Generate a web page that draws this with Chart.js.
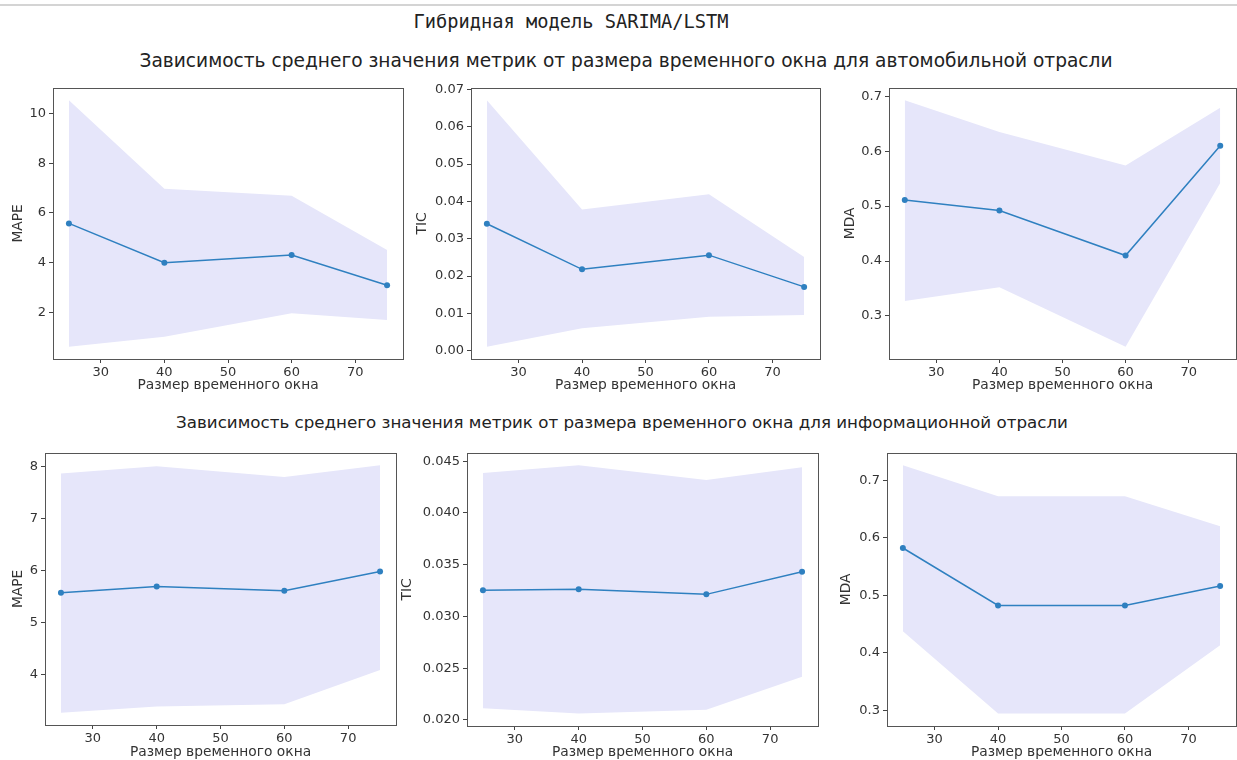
<!DOCTYPE html>
<html>
<head>
<meta charset="utf-8">
<script src="https://cdn.jsdelivr.net/npm/chart.js@4.4.1/dist/chart.umd.min.js"></script>
<style>
  body { margin: 0; background: #fff; width: 1237px; height: 760px; overflow: hidden; position: relative; font-family: "DejaVu Sans", sans-serif; }
  .topline { position: absolute; left: 0; top: 4px; width: 1237px; height: 2px; background: #d4d4d4; }
  .ttl { position: absolute; white-space: nowrap; transform: translate(-50%, -50%); color: #222; }
  canvas { position: absolute; }
</style>
</head>
<body>
<div class="topline"></div>
<div class="ttl" style="left:571px; top:21px; font-family:'DejaVu Sans Mono', monospace; font-size:18.7px;">Гибридная модель SARIMA/LSTM</div>
<div class="ttl" style="left:626px; top:60px; font-size:18.6px;">Зависимость среднего значения метрик от размера временного окна для автомобильной отрасли</div>
<div class="ttl" style="left:622px; top:422px; font-size:16.7px;">Зависимость среднего значения метрик от размера временного окна для информационной отрасли</div>

<canvas id="c1"></canvas>
<canvas id="c2"></canvas>
<canvas id="c3"></canvas>
<canvas id="c4"></canvas>
<canvas id="c5"></canvas>
<canvas id="c6"></canvas>

<script>
// Размер временного окна
const windowSizes = [25, 40, 60, 75];
const xTicks = [30, 40, 50, 60, 70];

// автомобильная отрасль
const autoMapeMean = [5.58, 4.0, 4.31, 3.1];
const autoMapeUpper = [10.53, 6.97, 6.69, 4.51];
const autoMapeLower = [0.63, 1.03, 1.97, 1.7];
const autoMapeTicks = [2, 4, 6, 8, 10];

const autoTicMean = [0.034, 0.0218, 0.0256, 0.0171];
const autoTicUpper = [0.0671, 0.0378, 0.0419, 0.0251];
const autoTicLower = [0.0011, 0.006, 0.0091, 0.0096];
const autoTicTicks = [0, 0.01, 0.02, 0.03, 0.04, 0.05, 0.06, 0.07];

const autoMdaMean = [0.511, 0.492, 0.41, 0.61];
const autoMdaUpper = [0.693, 0.635, 0.574, 0.679];
const autoMdaLower = [0.327, 0.352, 0.244, 0.542];
const autoMdaTicks = [0.3, 0.4, 0.5, 0.6, 0.7];

// информационная отрасль
const infoMapeMean = [5.57, 5.69, 5.61, 5.98];
const infoMapeUpper = [7.87, 8.01, 7.8, 8.03];
const infoMapeLower = [3.26, 3.38, 3.42, 4.08];
const infoMapeTicks = [4, 5, 6, 7, 8];

const infoTicMean = [0.03252, 0.03262, 0.03213, 0.03432];
const infoTicUpper = [0.04387, 0.04461, 0.04317, 0.04442];
const infoTicLower = [0.02113, 0.02061, 0.02097, 0.02418];
const infoTicTicks = [0.02, 0.025, 0.03, 0.035, 0.04, 0.045];

const infoMdaMean = [0.582, 0.482, 0.482, 0.516];
const infoMdaUpper = [0.726, 0.672, 0.672, 0.62];
const infoMdaLower = [0.437, 0.294, 0.294, 0.413];
const infoMdaTicks = [0.3, 0.4, 0.5, 0.6, 0.7];

const lineColor = '#2f80c0';
const bandColor = 'rgba(230, 230, 250, 1)';
const textColor = '#333';
const tickSize = 13;
const labelSize = 13.8;

// рамка вокруг области графика (как у matplotlib)
const framePlugin = {
    id: 'frame',
    afterDraw(chart) {
        const a = chart.chartArea;
        const ctx = chart.ctx;
        ctx.save();
        ctx.strokeStyle = '#555';
        ctx.lineWidth = 1;
        ctx.strokeRect(Math.round(a.left) + 0.5, Math.round(a.top) + 0.5, Math.round(a.right - a.left), Math.round(a.bottom - a.top));
        ctx.restore();
    }
};

function pts(ys) {
    return windowSizes.map((x, i) => ({ x: x, y: ys[i] }));
}

function makePanel(id, box, yTitleX, xTitleY, yLabel, mean, upper, lower, yTicks, decimals) {
    const lh = labelSize * 1.2;
    const left = Math.round(yTitleX - lh / 2);
    const top = box.t - 10;
    const right = box.r + 8;
    const bottom = Math.round(xTitleY + lh / 2);
    const canvas = document.getElementById(id);
    canvas.width = right - left;
    canvas.height = bottom - top;
    canvas.style.left = left + 'px';
    canvas.style.top = top + 'px';

    const all = upper.concat(lower);
    const lo = Math.min(...all), hi = Math.max(...all);
    const m = (hi - lo) * 0.05;

    return new Chart(canvas.getContext('2d'), {
        type: 'line',
        data: {
            datasets: [{
                data: pts(mean),
                borderColor: lineColor,
                backgroundColor: lineColor,
                borderWidth: 1.5,
                pointRadius: 3,
                pointBorderWidth: 0,
                fill: false
            }, {
                data: pts(upper),
                borderWidth: 0,
                pointRadius: 0,
                backgroundColor: bandColor,
                fill: '+1'
            }, {
                data: pts(lower),
                borderWidth: 0,
                pointRadius: 0,
                fill: false
            }]
        },
        options: {
            responsive: false,
            devicePixelRatio: 1,
            animation: false,
            layout: { padding: { top: 10, right: 8, left: 0, bottom: 0 } },
            plugins: { legend: { display: false }, tooltip: { enabled: false } },
            scales: {
                x: {
                    type: 'linear',
                    min: 22.5,
                    max: 77.5,
                    afterBuildTicks: s => { s.ticks = xTicks.map(v => ({ value: v })); },
                    afterFit: s => { s.height = bottom - box.b; },
                    grid: { drawOnChartArea: false, tickLength: 4, color: '#444' },
                    border: { display: false },
                    ticks: { padding: 2, color: textColor, font: { family: 'DejaVu Sans', size: tickSize } },
                    title: { display: true, text: 'Размер временного окна', color: textColor, padding: 0, font: { family: 'DejaVu Sans', size: labelSize } }
                },
                y: {
                    min: lo - m,
                    max: hi + m,
                    afterBuildTicks: s => { s.ticks = yTicks.map(v => ({ value: v })); },
                    afterFit: s => { s.width = box.l - left; },
                    grid: { drawOnChartArea: false, tickLength: 4, color: '#444' },
                    border: { display: false },
                    ticks: { padding: 3, color: textColor, font: { family: 'DejaVu Sans', size: tickSize }, callback: v => v.toFixed(decimals) },
                    title: { display: true, text: yLabel, color: textColor, padding: 0, font: { family: 'DejaVu Sans', size: labelSize } }
                }
            }
        },
        plugins: [framePlugin]
    });
}

makePanel('c1', { l: 53, t: 87, r: 403, b: 359 }, 18, 386, 'MAPE', autoMapeMean, autoMapeUpper, autoMapeLower, autoMapeTicks, 0);
makePanel('c2', { l: 471, t: 87, r: 820, b: 359 }, 422, 386, 'TIC', autoTicMean, autoTicUpper, autoTicLower, autoTicTicks, 2);
makePanel('c3', { l: 889, t: 87, r: 1236, b: 359 }, 850, 386, 'MDA', autoMdaMean, autoMdaUpper, autoMdaLower, autoMdaTicks, 1);
makePanel('c4', { l: 45, t: 452, r: 396, b: 725 }, 18, 753, 'MAPE', infoMapeMean, infoMapeUpper, infoMapeLower, infoMapeTicks, 0);
makePanel('c5', { l: 467, t: 452, r: 818, b: 726 }, 407, 753, 'TIC', infoTicMean, infoTicUpper, infoTicLower, infoTicTicks, 3);
makePanel('c6', { l: 887, t: 452, r: 1236, b: 726 }, 846, 753, 'MDA', infoMdaMean, infoMdaUpper, infoMdaLower, infoMdaTicks, 1);
</script>
</body>
</html>
